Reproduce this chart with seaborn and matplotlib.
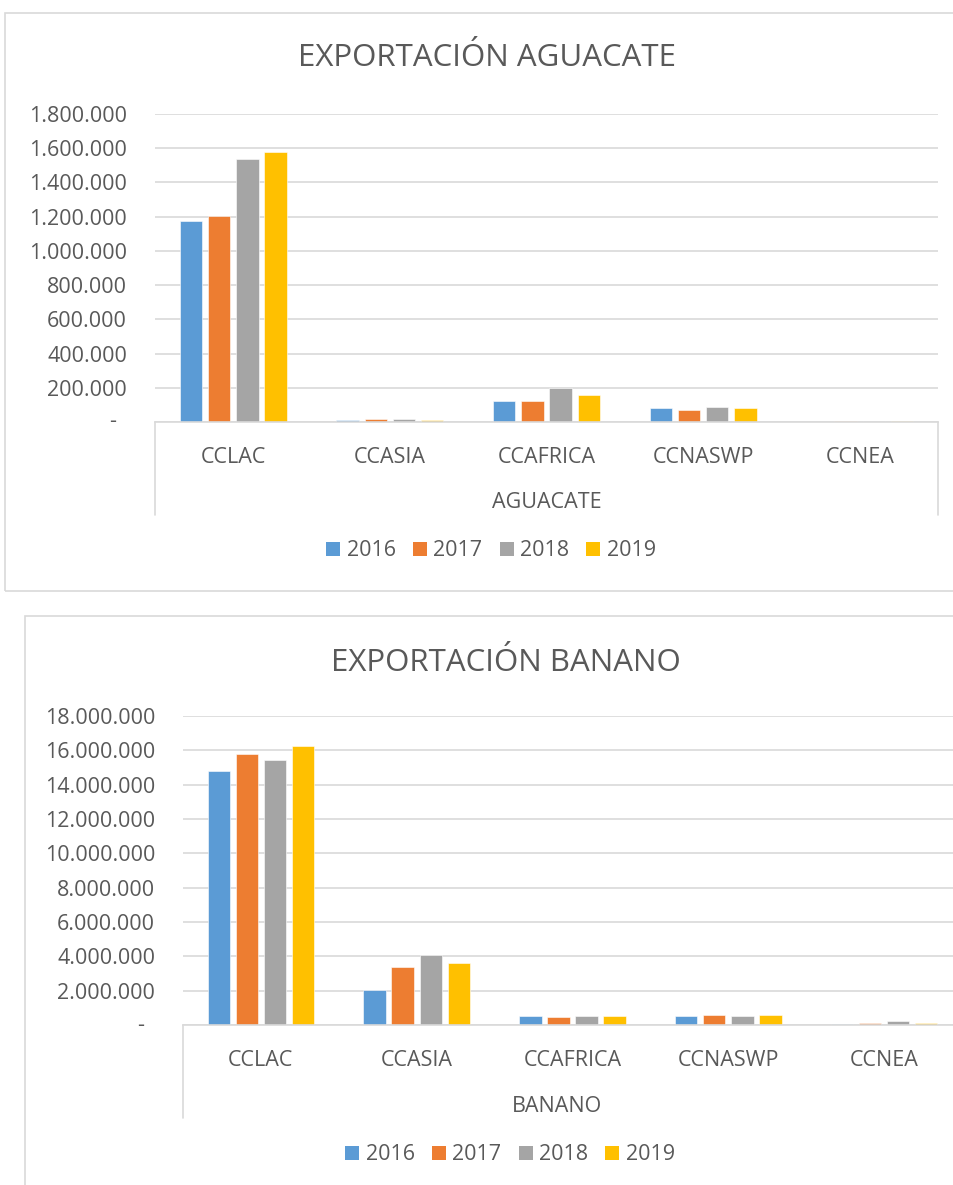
import matplotlib
matplotlib.use('Agg')
import numpy as np
import pandas as pd
import matplotlib.pyplot as plt
import seaborn as sns
from matplotlib.patches import Rectangle, Patch
from matplotlib.ticker import FuncFormatter, MultipleLocator

# data
regions = ['CCLAC', 'CCASIA', 'CCAFRICA', 'CCNASWP', 'CCNEA']
years = ['2016', '2017', '2018', '2019']

aguacate_2016 = [1175000, 10000, 120000, 80000, 2000]
aguacate_2017 = [1205000, 16000, 120000, 69000, 3000]
aguacate_2018 = [1535000, 20000, 196000, 87000, 5000]
aguacate_2019 = [1576000, 14000, 155000, 80000, 6000]

banano_2016 = [14790000, 2040000, 510000, 540000, 80000]
banano_2017 = [15770000, 3370000, 470000, 580000, 140000]
banano_2018 = [15460000, 4050000, 510000, 540000, 210000]
banano_2019 = [16250000, 3640000, 540000, 580000, 100000]

colors = ['#5B9BD5', '#ED7D31', '#A5A5A5', '#FFC000']
TXT = '#595959'
GRID = '#D9D9D9'


def to_long(series):
    rows = []
    for yr, vals in zip(years, series):
        for reg, v in zip(regions, vals):
            rows.append({'region': reg, 'year': yr, 'value': v})
    return pd.DataFrame(rows)


df_agu = to_long([aguacate_2016, aguacate_2017, aguacate_2018, aguacate_2019])
df_ban = to_long([banano_2016, banano_2017, banano_2018, banano_2019])

sns.set_theme(style='white')
plt.rcParams['font.family'] = ['Open Sans', 'DejaVu Sans']

W, H = 954, 1185
fig = plt.figure(figsize=(W / 100, H / 100), dpi=100)
PX = 0.72  # points per pixel at dpi 100
FS = 15.5


def fmt(v, _):
    # accounting style: zero is drawn separately as a dash
    if abs(v) < 1:
        return ''
    return f'{int(round(v)):,}'.replace(',', '.')


def draw(box, ax_px, title, title_xy, sublabel, sub_x, leg_xy, df, ymax, step):
    # outer chart border (Excel style)
    bx0, by0, bx1, by1 = box
    fig.patches.append(Rectangle((bx0 / W, 1 - by1 / H), (bx1 - bx0) / W, (by1 - by0) / H,
                                 transform=fig.transFigure, fill=False,
                                 edgecolor=GRID, lw=1.2))
    l, t, r, b = ax_px
    ax = fig.add_axes([l / W, 1 - b / H, (r - l) / W, (b - t) / H])
    sns.barplot(data=df, x='region', y='value', hue='year', palette=colors,
                saturation=1, width=0.72, gap=0.2, edgecolor='white', linewidth=0.4,
                legend=False, ax=ax)
    ax.set_ylim(0, ymax)
    ax.set_xlim(-0.5, 4.5)
    ax.yaxis.set_major_locator(MultipleLocator(step))
    ax.yaxis.set_major_formatter(FuncFormatter(fmt))
    ax.set_axisbelow(True)
    ax.yaxis.grid(True, color=GRID, lw=1.2)
    for s in ['top', 'right', 'left']:
        ax.spines[s].set_visible(False)
    ax.spines['bottom'].set_color(GRID)
    ax.spines['bottom'].set_linewidth(1.2)
    ax.tick_params(axis='y', length=0, pad=28 * PX, labelsize=FS, labelcolor=TXT)
    ax.tick_params(axis='x', length=0, pad=25 * PX, labelsize=FS, labelcolor=TXT)
    ax.set_xlabel('')
    ax.set_ylabel('')
    ax.annotate('-', xy=(0, 0), xycoords=('axes fraction', 'data'),
                xytext=(-39 * PX, 0), textcoords='offset points',
                ha='right', va='center', fontsize=FS, color=TXT)

    # multi-level category axis lines
    depth = 93 / (b - t)
    for xx in [0, 1]:
        ax.plot([xx, xx], [0, -depth], transform=ax.transAxes, color=GRID,
                lw=1.2, clip_on=False)
    ax.annotate(sublabel, xy=(sub_x, 0), xycoords=('data', 'axes fraction'),
                xytext=(0, -81 * PX), textcoords='offset points',
                ha='center', va='center', fontsize=FS, color=TXT)

    fig.text(title_xy[0] / W, 1 - title_xy[1] / H, title, ha='center', va='center',
             fontsize=22.5, color=TXT)

    handles = [Patch(facecolor=c, edgecolor='none', label=y) for c, y in zip(colors, years)]
    fig.legend(handles=handles, loc='center', ncol=4, frameon=False,
               bbox_to_anchor=(leg_xy[0] / W, 1 - leg_xy[1] / H),
               fontsize=FS, labelcolor=TXT, handlelength=0.65, handleheight=0.65,
               handletextpad=0.3, columnspacing=0.8)
    return ax


draw((5, 13, 1000, 591), (155, 114, 938, 422), 'EXPORTACIÓN AGUACATE', (487, 58),
     'AGUACATE', 2.0, (491, 551), df_agu, 1800000, 200000)
draw((25, 616, 1000, 1300), (183, 716, 962, 1025), 'EXPORTACIÓN BANANO', (506, 663),
     'BANANO', 1.90, (510, 1155), df_ban, 18000000, 2000000)

fig.savefig('out.png', dpi=100)
